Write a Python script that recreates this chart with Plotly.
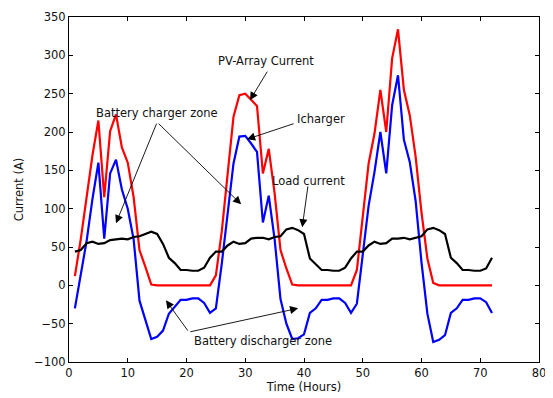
import plotly.graph_objects as go

hours = list(range(1, 73))

pv_array = [12, 60, 115, 170, 215, 115, 201, 223, 180, 160, 115, 46, 24, 1,
            0, 0, 0, 0, 0, 0, 0, 0, 0, 0,
            13, 70, 145, 220, 248, 250, 242, 234, 146, 178, 120, 46, 22, 1,
            0, 0, 0, 0, 0, 0, 0, 0, 0, 0,
            20, 88, 159, 198, 255, 200, 296, 334, 255, 222, 168, 95, 35, 3,
            0, 0, 0, 0, 0, 0, 0, 0, 0, 0]

icharger = [-30, 17, 58, 113, 160, 61, 146, 164, 125, 100, 60, -20, -45, -70,
            -67, -59, -37, -28, -19, -19, -17, -17, -23, -36,
            -30, 28, 94, 159, 194, 195, 185, 174, 82, 117, 60, -18, -50, -70,
            -69, -64, -36, -30, -19, -19, -17, -17, -23, -36,
            -24, 40, 104, 148, 200, 146, 235, 274, 190, 161, 110, 30, -37, -74,
            -71, -65, -36, -30, -19, -19, -17, -17, -22, -36]

load = [44, 46, 55, 57, 54, 55, 59, 60, 61, 60, 63, 64, 67, 70,
        67, 54, 36, 29, 20, 20, 19, 19, 23, 36,
        44, 44, 52, 57, 54, 55, 61, 62, 62, 60, 63, 64, 73, 75,
        72, 67, 35, 28, 20, 20, 19, 19, 23, 35,
        44, 44, 52, 57, 54, 55, 61, 61, 62, 60, 62, 64, 73, 75,
        72, 67, 36, 29, 20, 20, 19, 19, 22, 36]

x_ticks = [0, 10, 20, 30, 40, 50, 60, 70, 80]
y_ticks = [-100, -50, 0, 50, 100, 150, 200, 250, 300, 350]

FONT = "DejaVu Sans, Arial, sans-serif"

fig = go.Figure()
fig.add_trace(go.Scatter(x=hours, y=pv_array, mode="lines",
                         line=dict(color="#ff0000", width=2.2), name="PV-Array Current"))
fig.add_trace(go.Scatter(x=hours, y=icharger, mode="lines",
                         line=dict(color="#0000ff", width=2.2), name="Icharger"))
fig.add_trace(go.Scatter(x=hours, y=load, mode="lines",
                         line=dict(color="#000000", width=2.2), name="Load current"))

def arrow(x_head, y_head, x_tail, y_tail):
    fig.add_annotation(x=x_head, y=y_head, ax=x_tail, ay=y_tail,
                       xref="x", yref="y", axref="x", ayref="y",
                       text="", showarrow=True, arrowhead=2, arrowsize=1.8,
                       arrowwidth=0.9, arrowcolor="black", standoff=0, startstandoff=0)

def label(x, y, txt):
    fig.add_annotation(x=x, y=y, xref="x", yref="y", text=txt, showarrow=False,
                       font=dict(family=FONT, size=11.5, color="#111111"))

label(33.5, 292, "PV-Array Current")
arrow(30.8, 241.5, 33.9, 280.7)
label(42.9, 216.7, "Icharger")
arrow(30.3, 190.6, 38.5, 211.5)
label(40.7, 136.5, "Load current")
arrow(39.7, 75.7, 40.7, 131)
label(15.0, 225, "Battery charger zone")
arrow(8.0, 81, 15.0, 212.8)
arrow(29.3, 105.7, 15.0, 212.8)
label(33.0, -73, "Battery discharger zone")
arrow(16.5, -19.6, 20.4, -61)
arrow(39.0, -30, 20.4, -61)

axis_common = dict(showline=True, linecolor="black", linewidth=1, mirror="ticks",
                   ticks="inside", ticklen=4, tickcolor="black", showgrid=False,
                   zeroline=False, automargin=False,
                   tickfont=dict(family=FONT, size=11.5, color="#111111"))

fig.update_xaxes(range=[0, 80], tickvals=x_ticks,
                 title=dict(text="Time (Hours)", font=dict(family=FONT, size=11.5, color="#111111"),
                            standoff=2), **axis_common)
fig.update_yaxes(range=[-100, 350], tickvals=y_ticks,
                 title=dict(text="Current (A)", font=dict(family=FONT, size=11.5, color="#111111"),
                            standoff=8), **axis_common)

fig.update_layout(width=545, height=390, showlegend=False,
                  margin=dict(l=61, r=14, t=9, b=36),
                  plot_bgcolor="white", paper_bgcolor="white")

fig.write_html("out.html")
